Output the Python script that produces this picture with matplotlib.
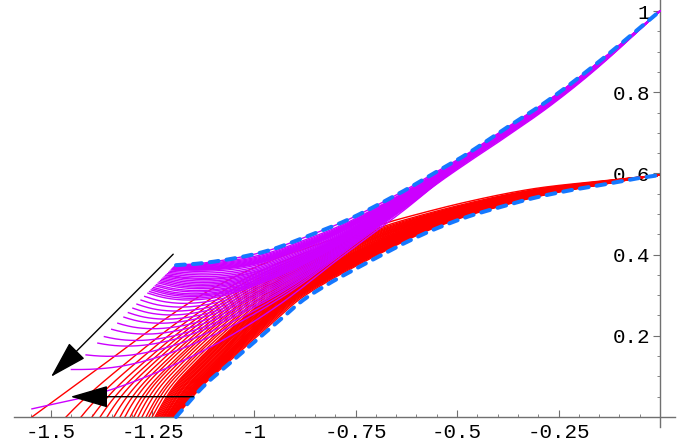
import numpy as np
import matplotlib.pyplot as plt

# lower dashed edge of the red family
low_x = [-1.192, -1.126, -1.059, -0.993, -0.936, -0.879, -0.813, -0.746, -0.682,
         -0.628, -0.559, -0.475, -0.394, -0.313, -0.229, -0.148, -0.067, 0.000]
low_y = [0.000, 0.074, 0.133, 0.190, 0.239, 0.288, 0.330, 0.367, 0.401,
         0.429, 0.461, 0.493, 0.517, 0.539, 0.557, 0.571, 0.586, 0.596]

# leftmost red curve
redl_x = [-1.547, -1.379, -1.232, -1.108, -0.985, -0.862, -0.739, -0.640,
          -0.475, -0.313, -0.148, 0.000]
redl_y = [0.000, 0.123, 0.232, 0.313, 0.374, 0.419, 0.458, 0.488,
          0.530, 0.562, 0.581, 0.596]

# upper dashed edge of the magenta family
up_x = [-1.192, -1.126, -1.042, -0.961, -0.879, -0.764, -0.640, -0.559,
        -0.475, -0.394, -0.271, -0.148, 0.000]
up_y = [0.374, 0.379, 0.392, 0.411, 0.441, 0.488, 0.552, 0.599,
        0.648, 0.702, 0.783, 0.877, 1.000]

# lowest magenta curve
magl_x = [-1.547, -1.379, -1.232, -1.084, -0.936, -0.788, -0.640, -0.559,
          -0.475, -0.394, -0.271, -0.148, 0.000]
magl_y = [0.020, 0.059, 0.113, 0.185, 0.278, 0.392, 0.502, 0.567,
          0.626, 0.680, 0.766, 0.865, 1.000]

# where the red curves leave the x axis
red_x0 = [-1.547, -1.463, -1.426, -1.399, -1.379, -1.362, -1.345, -1.330, -1.318,
          -1.305, -1.296, -1.286, -1.276, -1.266, -1.259, -1.251, -1.244, -1.241,
          -1.238, -1.235, -1.232, -1.229, -1.227, -1.224, -1.222, -1.220, -1.217,
          -1.215, -1.214, -1.212, -1.210, -1.208, -1.207, -1.205, -1.204, -1.203,
          -1.202, -1.201, -1.200, -1.199, -1.198, -1.197, -1.196, -1.195, -1.194,
          -1.193]

# heights where the magenta curves start (on the slanted start line)
mag_y0 = [0.020, 0.117, 0.153, 0.182, 0.198, 0.216, 0.231, 0.246, 0.257, 0.268,
          0.278, 0.288, 0.297, 0.305, 0.309, 0.313, 0.316, 0.319, 0.323, 0.326,
          0.330, 0.333, 0.336, 0.339, 0.342, 0.345, 0.348, 0.350, 0.353, 0.356,
          0.359, 0.362, 0.364, 0.365, 0.366, 0.367, 0.368, 0.369, 0.370, 0.371,
          0.372, 0.373, 0.374]

# arrows (tail, tip)
arrow_tail = [(-1.199, 0.401), (-1.149, 0.050)]
arrow_tip = [(-1.500, 0.099), (-1.452, 0.050)]

xticks = [-1.5, -1.25, -1.0, -0.75, -0.5, -0.25]
xlabels = ['-1.5', '-1.25', '-1', '-0.75', '-0.5', '-0.25']
yticks = [0.2, 0.4, 0.6, 0.8, 1.0]
ylabels = ['0.2', '0.4', '0.6', '0.8', '1']


def smooth(xs, ys, k=12):
    # catmull-rom through the read points
    p = np.column_stack([xs, ys])
    p = np.vstack([2*p[0]-p[1], p, 2*p[-1]-p[-2]])
    t = np.linspace(0, 1, k, endpoint=False)[:, None]
    out = []
    for i in range(1, len(p)-2):
        p0, p1, p2, p3 = p[i-1], p[i], p[i+1], p[i+2]
        out.append(0.5*(2*p1 + (-p0+p2)*t + (2*p0-5*p1+4*p2-p3)*t**2
                        + (-p0+3*p1-3*p2+p3)*t**3))
    out.append(p[-2][None])
    out = np.vstack(out)
    return out[:, 0], out[:, 1]


def by_arc(xs, ys, n=400):
    d = np.r_[0, np.cumsum(np.hypot(np.diff(xs), np.diff(ys)))]
    s = np.linspace(0, 1, n)*d[-1]
    return s/d[-1], np.interp(s, d, xs), np.interp(s, d, ys)


def family(edge_a, edge_b, a):
    # curve between two read edge curves; the spread evens out along the way
    u, ax_, ay_ = edge_a
    _, bx_, by_ = edge_b
    w = a ** (1 - 0.5*(1 - np.exp(-u/0.12)))
    return (1-w)*ax_ + w*bx_, (1-w)*ay_ + w*by_


fig = plt.figure(figsize=(6.92, 4.47), dpi=100)
ax = fig.add_axes([0, 0, 1, 1])
ax.set_xlim(-1.6256, 0.0788)
ax.set_ylim(-0.0739, 1.0271)

# red family
L = by_arc(*smooth(low_x, low_y))
R = by_arc(*smooth(redl_x, redl_y))
for x0 in red_x0:
    a = (x0 - low_x[0])/(redl_x[0] - low_x[0])
    cx, cy = family(L, R, a)
    ax.plot(cx, cy, color='#ff0000', lw=1.0, zorder=2)

# magenta family
U = by_arc(*smooth(up_x, up_y))
M = by_arc(*smooth(magl_x, magl_y))
for y0 in mag_y0:
    a = (up_y[0] - y0)/(up_y[0] - magl_y[0])
    cx, cy = family(U, M, a)
    ax.plot(cx, cy, color='#cc00ff', lw=1.0, zorder=3)

# dashed envelopes
for ex, ey in [(up_x, up_y), (low_x, low_y)]:
    sx, sy = smooth(ex, ey)
    ax.plot(sx, sy, color='#1478ff', lw=2.9, dashes=(2.2, 2.0),
            dash_capstyle='round', zorder=5)

for tail, tip in zip(arrow_tail, arrow_tip):
    ax.annotate('', xy=tip, xytext=tail, zorder=6,
                arrowprops=dict(arrowstyle='-|>,head_length=2.4,head_width=0.7',
                                mutation_scale=10, lw=1.0, color='black',
                                shrinkA=0, shrinkB=0))

# mathematica-like axes crossing at the origin
for s in ['top', 'right']:
    ax.spines[s].set_visible(False)
ax.spines['bottom'].set_position(('data', 0))
ax.spines['left'].set_position(('data', 0))
ax.spines['bottom'].set_bounds(-1.59, 0.037)
ax.spines['left'].set_bounds(-0.025, 1.027)
for s in ['bottom', 'left']:
    ax.spines[s].set_color('#707070')
    ax.spines[s].set_linewidth(1.0)

ax.set_xticks(xticks)
ax.set_xticklabels(xlabels)
ax.set_xticks(np.arange(-1.55, 0, 0.05), minor=True)
ax.set_yticks(yticks)
ax.set_yticklabels(ylabels)
ax.set_yticks(np.arange(0.05, 1.0, 0.05), minor=True)
ax.tick_params(axis='x', which='both', direction='in', color='#707070', pad=4)
ax.tick_params(axis='y', which='both', direction='out', color='#707070', pad=2)
ax.tick_params(which='major', length=5, width=0.8)
ax.tick_params(which='minor', length=2.5, width=0.6)
for lab in ax.get_xticklabels() + ax.get_yticklabels():
    lab.set_fontfamily(['Liberation Mono', 'DejaVu Sans Mono'])
    lab.set_fontsize(15)

fig.savefig('out.png', dpi=100)
